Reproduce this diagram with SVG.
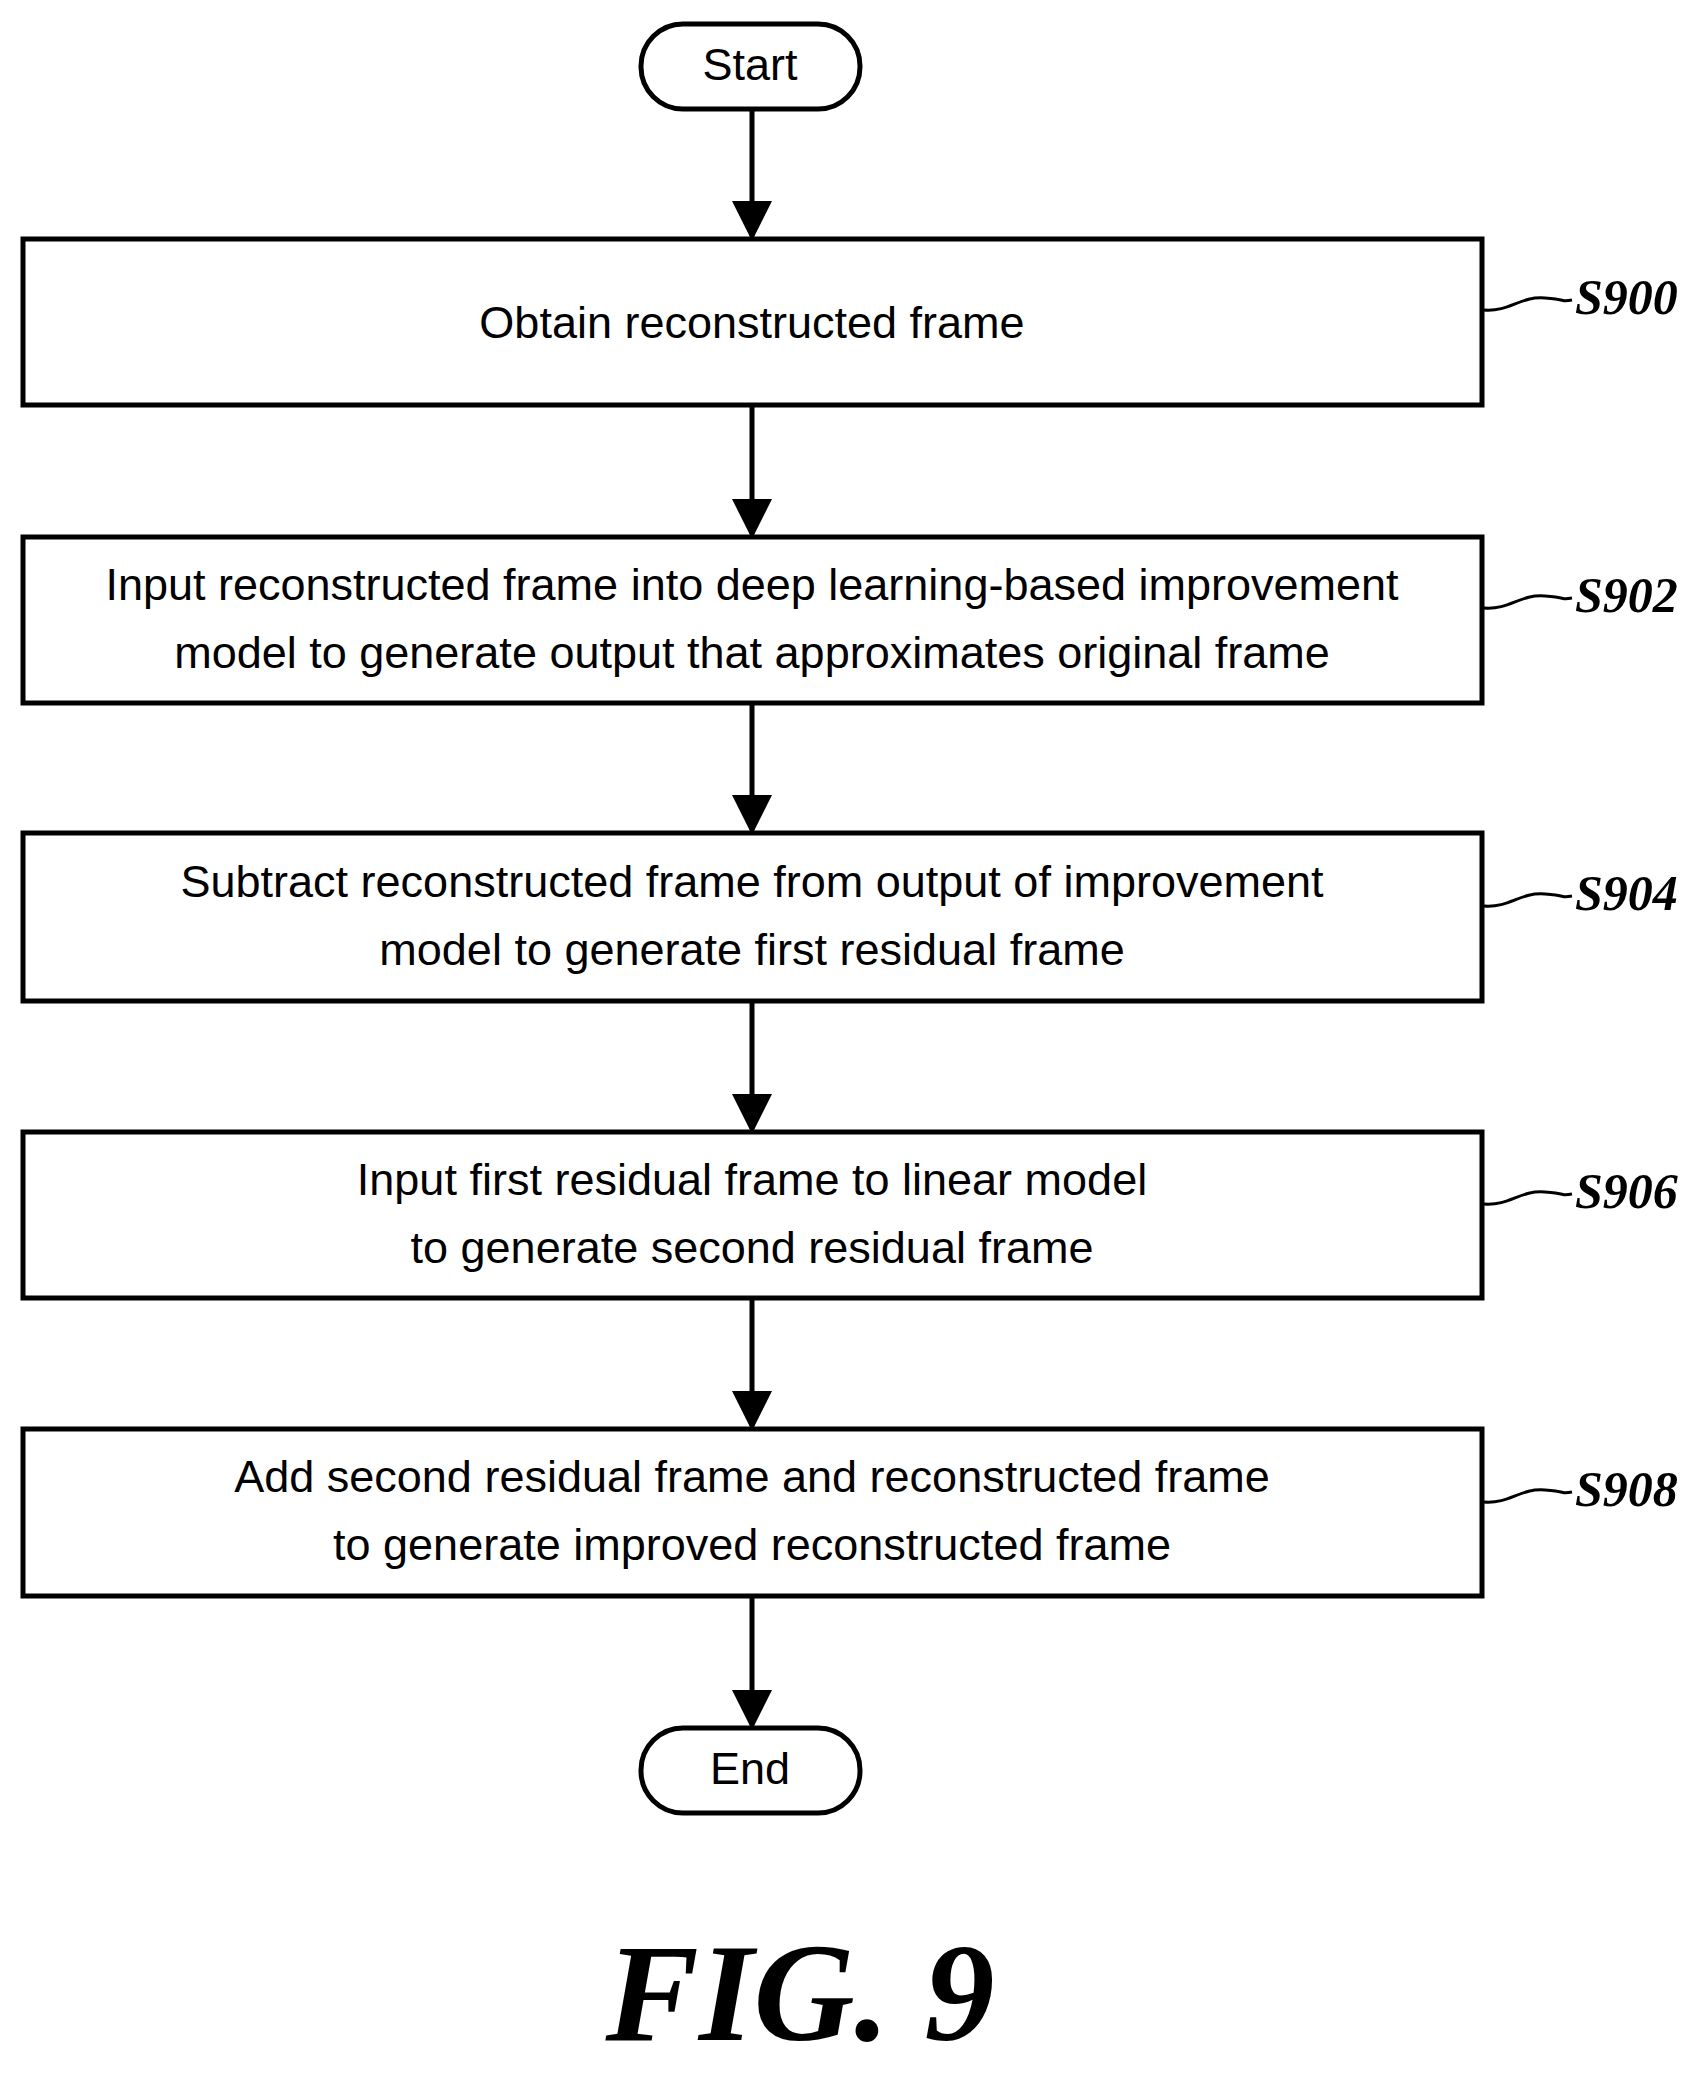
<svg xmlns="http://www.w3.org/2000/svg" width="1699" height="2073" viewBox="0 0 1699 2073">
<style>
.b{fill:#fff;stroke:#000;stroke-width:5}
.t{font-family:"Liberation Sans",Arial,sans-serif;font-size:45px;text-anchor:middle;fill:#000}
.l{font-family:"Liberation Serif",serif;font-style:italic;font-weight:bold;font-size:50px;fill:#000}
.c{stroke:#000;stroke-width:5;fill:none}
.s{stroke:#000;stroke-width:3;fill:none}
</style>
<defs><marker id="a" markerWidth="8" markerHeight="8" refX="7" refY="4" orient="auto" markerUnits="strokeWidth"><path d="M0,0L8,4L0,8z" fill="#000"/></marker></defs>
<rect width="1699" height="2073" fill="#fff"/>
<g id="connectors">
<line class="c" x1="752" y1="109" x2="752" y2="236" marker-end="url(#a)"/>
<line class="c" x1="752" y1="405" x2="752" y2="534" marker-end="url(#a)"/>
<line class="c" x1="752" y1="703" x2="752" y2="830" marker-end="url(#a)"/>
<line class="c" x1="752" y1="1001" x2="752" y2="1129" marker-end="url(#a)"/>
<line class="c" x1="752" y1="1298" x2="752" y2="1426" marker-end="url(#a)"/>
<line class="c" x1="752" y1="1596" x2="752" y2="1725" marker-end="url(#a)"/>
</g>
<g id="start"><rect class="b" x="641" y="24" width="219" height="85" rx="42"/><text class="t" x="750" y="80">Start</text></g>
<g id="s900"><rect class="b" x="23" y="239" width="1459" height="166"/><text class="t" x="752" y="338">Obtain reconstructed frame</text>
<path class="s" d="M1484,310 C1510,312 1520,296 1545,298 S1560,302 1572,300"/><text class="l" x="1575" y="314">S900</text></g>
<g id="s902"><rect class="b" x="23" y="537" width="1459" height="166"/><text class="t" x="752" y="600">Input reconstructed frame into deep learning-based improvement</text><text class="t" x="752" y="668">model to generate output that approximates original frame</text>
<path class="s" d="M1484,608 C1510,610 1520,594 1545,596 S1560,600 1572,598"/><text class="l" x="1575" y="612">S902</text></g>
<g id="s904"><rect class="b" x="23" y="833" width="1459" height="168"/><text class="t" x="752" y="897">Subtract reconstructed frame from output of improvement</text><text class="t" x="752" y="965">model to generate first residual frame</text>
<path class="s" d="M1484,906 C1510,908 1520,892 1545,894 S1560,898 1572,896"/><text class="l" x="1575" y="910">S904</text></g>
<g id="s906"><rect class="b" x="23" y="1132" width="1459" height="166"/><text class="t" x="752" y="1195">Input first residual frame to linear model</text><text class="t" x="752" y="1263">to generate second residual frame</text>
<path class="s" d="M1484,1204 C1510,1206 1520,1190 1545,1192 S1560,1196 1572,1194"/><text class="l" x="1575" y="1208">S906</text></g>
<g id="s908"><rect class="b" x="23" y="1429" width="1459" height="167"/><text class="t" x="752" y="1492">Add second residual frame and reconstructed frame</text><text class="t" x="752" y="1560">to generate improved reconstructed frame</text>
<path class="s" d="M1484,1502 C1510,1504 1520,1488 1545,1490 S1560,1494 1572,1492"/><text class="l" x="1575" y="1506">S908</text></g>
<g id="end"><rect class="b" x="641" y="1728" width="219" height="85" rx="42"/><text class="t" x="750" y="1784">End</text></g>
<text x="800" y="2040" style="font-family:'Liberation Serif',serif;font-style:italic;font-weight:bold;font-size:140px;text-anchor:middle">FIG. 9</text>
</svg>
